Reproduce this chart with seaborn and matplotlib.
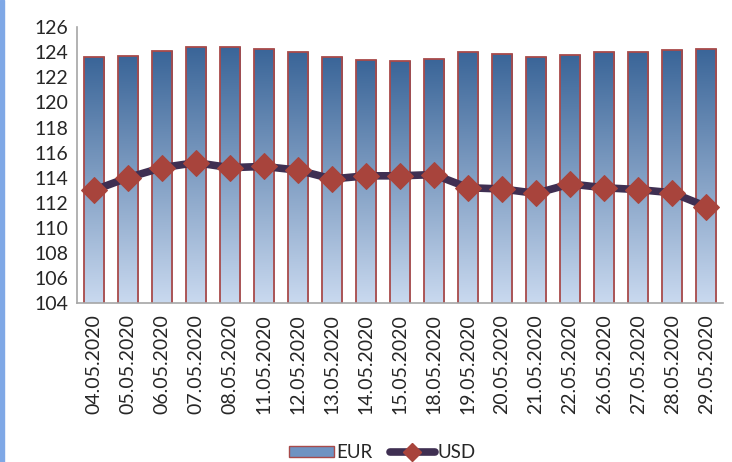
import numpy as np
import pandas as pd
import seaborn as sns
import matplotlib.pyplot as plt
from matplotlib.colors import LinearSegmentedColormap
from matplotlib.patches import Rectangle, Patch
from matplotlib.lines import Line2D

dates = ["04.05.2020", "05.05.2020", "06.05.2020", "07.05.2020", "08.05.2020",
         "11.05.2020", "12.05.2020", "13.05.2020", "14.05.2020", "15.05.2020",
         "18.05.2020", "19.05.2020", "20.05.2020", "21.05.2020", "22.05.2020",
         "26.05.2020", "27.05.2020", "28.05.2020", "29.05.2020"]
eur = [123.6, 123.7, 124.1, 124.4, 124.4, 124.3, 124.0, 123.65, 123.35, 123.3,
       123.5, 124.05, 123.9, 123.65, 123.75, 124.05, 124.0, 124.15, 124.3]
usd = [113.0, 114.0, 114.8, 115.2, 114.8, 114.9, 114.6, 113.9, 114.15, 114.15,
       114.25, 113.2, 113.1, 112.75, 113.5, 113.2, 113.05, 112.8, 111.7]

df = pd.DataFrame({"date": dates, "EUR": eur, "USD": usd})

sns.set_style("white")
plt.rcParams["font.family"] = ["Lato", "DejaVu Sans"]

fig = plt.figure(figsize=(7.32, 4.62), dpi=100)
ax = fig.add_axes([0.105, 0.344, 0.883, 0.597])

# light blue stripe on the left edge
fig.patches.append(Rectangle((0, 0), 0.006, 1, transform=fig.transFigure,
                             color="#7fa8e6", zorder=0))

sns.barplot(data=df, x="date", y="EUR", ax=ax, width=0.6,
            color="#4a72a6", edgecolor="#a84a4a", linewidth=1.3)

ax.set_ylim(104, 126)
ax.set_xlim(-0.5, len(dates) - 0.5)

# vertical gradient fill for bars
grad = LinearSegmentedColormap.from_list("g", ["#c9d9ef", "#3a6598"])
g = np.linspace(0, 1, 256).reshape(-1, 1)
for p in ax.patches:
    x0, w = p.get_x(), p.get_width()
    top = p.get_y() + p.get_height()
    im = ax.imshow(g, cmap=grad, aspect="auto", origin="lower",
                   extent=[x0, x0 + w, 104, top], zorder=1.5)
    im.set_clip_path(p)
    p.set_facecolor("none")
    p.set_zorder(2)

sns.lineplot(data=df, x="date", y="USD", ax=ax, color="#3f2f52", linewidth=5.5,
             marker="D", markersize=13, markerfacecolor="#a8443c",
             markeredgecolor="#a8443c", zorder=3)

ax.set_ylim(104, 126)
ax.set_xlim(-0.5, len(dates) - 0.5)
ax.set_yticks(range(104, 127, 2))
ax.set_xlabel("")
ax.set_ylabel("")
ax.tick_params(axis="x", rotation=90, labelsize=14, length=0, pad=8)
ax.tick_params(axis="y", labelsize=14, length=0, pad=6)
sns.despine(ax=ax)
for s in ["left", "bottom"]:
    ax.spines[s].set_color("#a6a6a6")
    ax.spines[s].set_linewidth(1.2)

handles = [Patch(facecolor="#6f93c2", edgecolor="#a84a4a", label="EUR"),
           Line2D([0], [0], color="#3f2f52", linewidth=5.5, marker="D",
                  markersize=9, markerfacecolor="#a8443c",
                  markeredgecolor="#a8443c", label="USD")]
fig.legend(handles=handles, loc="lower center", bbox_to_anchor=(0.522, -0.035),
           ncol=2, frameon=False, fontsize=13.5, handlelength=2.4,
           handleheight=0.5, handletextpad=0.15, columnspacing=0.9)

fig.savefig("out.png", dpi=100)
